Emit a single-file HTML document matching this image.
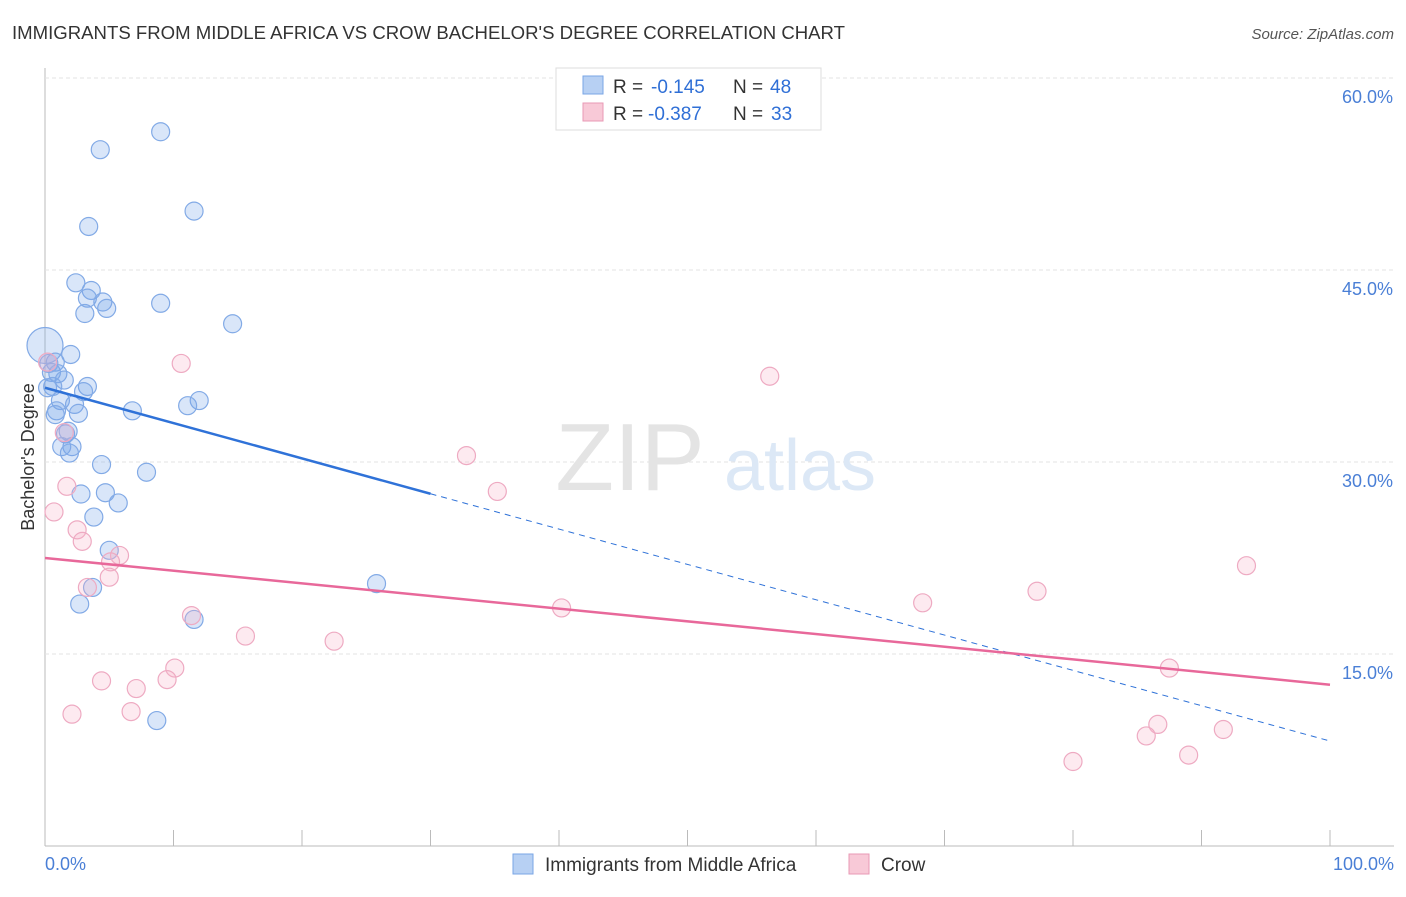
<!DOCTYPE html>
<html><head><meta charset="utf-8"><style>
body{margin:0;background:#fff;font-family:"Liberation Sans",sans-serif;}
svg text{font-family:"Liberation Sans",sans-serif;}
</style></head><body>
<svg id="chart" width="1406" height="892">
<text x="12" y="39" font-size="18" fill="#333" textLength="833" lengthAdjust="spacingAndGlyphs">IMMIGRANTS FROM MIDDLE AFRICA VS CROW BACHELOR'S DEGREE CORRELATION CHART</text>
<text x="1394" y="39" font-size="15" fill="#555" text-anchor="end" font-style="italic">Source: ZipAtlas.com</text>
<g id="grid"></g>
<text x="630" y="490" font-size="96" fill="#e4e4e4" font-family="Liberation Serif" text-anchor="middle">ZIP</text>
<text x="800" y="490" font-size="72" fill="#dce8f6" text-anchor="middle">atlas</text>
<g id="marks"></g>
<text transform="translate(34,457) rotate(-90)" font-size="18" fill="#333" text-anchor="middle">Bachelor's Degree</text>
<g>
<rect x="556" y="68" width="265" height="62" fill="#fff" stroke="#ddd"/>
<rect x="583" y="76" width="20" height="18" fill="#b7d0f3" stroke="#7aa6e6"/>
<text x="613" y="93" font-size="19" fill="#333">R =</text>
<text x="651" y="93" font-size="19" fill="#2f6fd6">-0.145</text>
<text x="733" y="93" font-size="19" fill="#333">N =</text>
<text x="770" y="93" font-size="19" fill="#2f6fd6">48</text>
<rect x="583" y="103" width="20" height="18" fill="#f8c9d7" stroke="#e899b5"/>
<text x="613" y="120" font-size="19" fill="#333">R =</text>
<text x="648" y="120" font-size="19" fill="#2f6fd6">-0.387</text>
<text x="733" y="120" font-size="19" fill="#333">N =</text>
<text x="771" y="120" font-size="19" fill="#2f6fd6">33</text>
</g>
<g>
<rect x="513" y="854" width="20" height="20" fill="#b7d0f3" stroke="#7aa6e6"/>
<text x="545" y="871" font-size="19" fill="#333">Immigrants from Middle Africa</text>
<rect x="849" y="854" width="20" height="20" fill="#f8c9d7" stroke="#e899b5"/>
<text x="881" y="871" font-size="19" fill="#333">Crow</text>
</g>
</svg>
<script>
const xTickLabels=["0.0%","100.0%"];
const yTicks=[15,30,45,60];
const yTickLabels=["15.0%","30.0%","45.0%","60.0%"];
const blueX=[4.3,9.0,3.4,11.6,2.4,3.6,3.3,4.5,4.8,3.1,9.0,14.6,0,2.0,0.8,0.5,1.0,1.5,3.3,3.0,1.2,2.3,12.0,11.1,6.8,2.6,0.9,0.8,1.8,1.6,2.1,1.3,1.9,4.4,7.9,2.8,4.7,5.7,3.8,5.0,3.7,2.7,11.6,25.8,8.7,0.6,0.3,0.2];
const blueY=[54.4,55.8,48.4,49.6,44.0,43.4,42.8,42.5,42.0,41.6,42.4,40.8,39.1,38.4,37.8,37.0,36.9,36.4,35.9,35.5,34.8,34.5,34.8,34.4,34.0,33.8,34.0,33.7,32.4,32.2,31.2,31.2,30.7,29.8,29.2,27.5,27.6,26.8,25.7,23.1,20.2,18.9,17.7,20.5,9.8,35.9,37.7,35.8];
const pinkX=[0.2,10.6,32.8,35.2,1.7,0.7,2.5,2.9,5.8,5.1,3.3,5.0,11.4,15.6,22.5,40.2,68.3,77.2,93.5,56.4,10.1,4.4,9.5,7.1,2.1,6.7,87.5,86.6,85.7,80.0,89.0,91.7,1.5];
const pinkY=[37.8,37.7,30.5,27.7,28.1,26.1,24.7,23.8,22.7,22.2,20.2,21.0,18.0,16.4,16.0,18.6,19.0,19.9,21.9,36.7,13.9,12.9,13.0,12.3,10.3,10.5,13.9,9.5,8.6,6.6,7.1,9.1,32.3];
const blueTrend=[35.8,3.0,30.0,100,8.2];
const pinkTrend=[22.5,12.6];
const X=v=>45+v*12.85, Y=v=>846-v*12.8;
const NS="http://www.w3.org/2000/svg";
const grid=document.getElementById('grid'), marks=document.getElementById('marks');
function mk(p,tag,a){const e=document.createElementNS(NS,tag);for(const k in a)e.setAttribute(k,a[k]);p.appendChild(e);return e;}
let ax=mk(grid,'line',{x1:45,y1:68,x2:45,y2:846,stroke:'#bbb'});


let bx=mk(grid,'line',{x1:45,y1:846,x2:1394,y2:846,stroke:'#bbb'});


for(let i=0;i<=10;i++){let t=mk(grid,'line',{x1:X(i*10),y1:830,x2:X(i*10),y2:846,stroke:'#bbb'});

}
yTicks.forEach((v,i)=>{let g=mk(grid,'line',{x1:45,y1:Y(v),x2:1394,y2:Y(v),stroke:'#e3e3e3','stroke-dasharray':'4,3'});


let t=mk(grid,'text',{x:1393,y:Y(v)+25,'font-size':18,fill:'#4a7fd6','text-anchor':'end'});t.textContent=yTickLabels[i];

});
[[0,'start',45],[100,'end',1394]].forEach((d,i)=>{let t=mk(grid,'text',{x:d[2],y:870,'font-size':18,fill:'#4a7fd6','text-anchor':d[1]});t.textContent=xTickLabels[i];

});
blueX.forEach((x,i)=>{let c=mk(marks,'circle',{cx:X(x),cy:Y(blueY[i]),r:i==12?18:9,fill:'rgba(120,165,235,0.28)',stroke:'#82aae6','stroke-width':1.2});

});
pinkX.forEach((x,i)=>{let c=mk(marks,'circle',{cx:X(x),cy:Y(pinkY[i]),r:9,fill:'rgba(248,180,200,0.28)',stroke:'#eeaac2','stroke-width':1.2});

});
let slope=(blueTrend[4]-blueTrend[0])/100;
let l1=mk(marks,'line',{x1:X(0),y1:Y(blueTrend[0]),x2:X(blueTrend[2]),y2:Y(blueTrend[0]+slope*blueTrend[2]),stroke:'#2f72d8','stroke-width':2.5});


let l2=mk(marks,'line',{x1:X(blueTrend[2]),y1:Y(blueTrend[0]+slope*blueTrend[2]),x2:X(100),y2:Y(blueTrend[4]),stroke:'#2f72d8','stroke-width':1,'stroke-dasharray':'6,5'});


let l3=mk(marks,'line',{x1:X(0),y1:Y(pinkTrend[0]),x2:X(100),y2:Y(pinkTrend[1]),stroke:'#e8689a','stroke-width':2.5});


</script>
</body></html>
